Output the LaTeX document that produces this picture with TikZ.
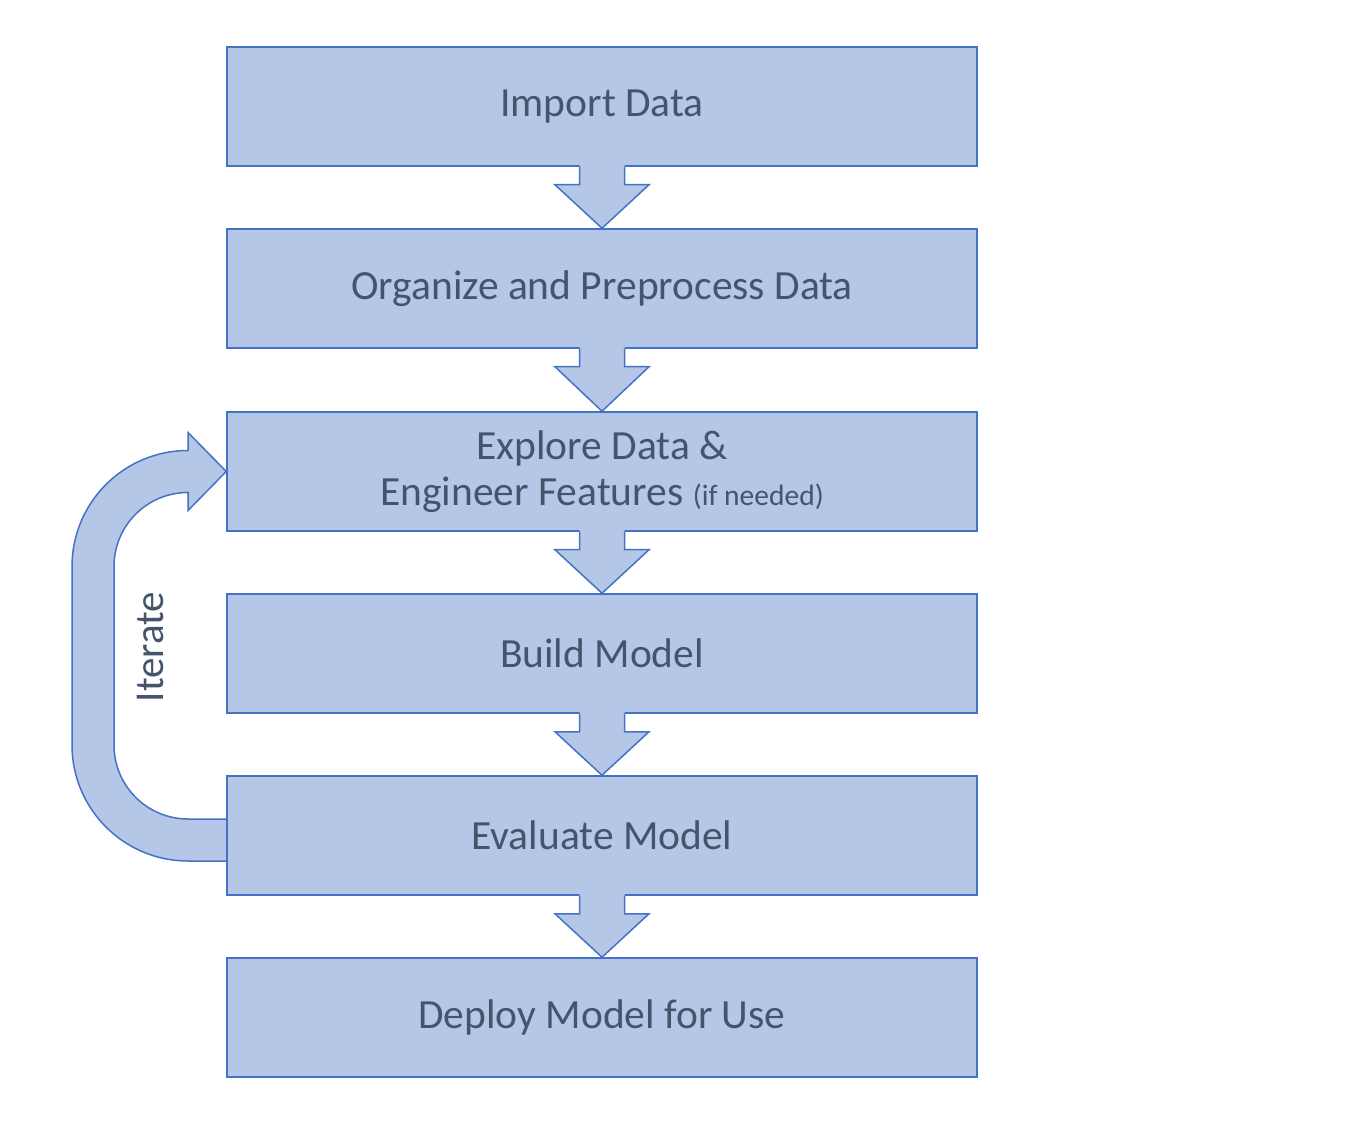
\documentclass[tikz,border=0pt]{standalone}
\usepackage{fontspec}
\setmainfont{Carlito}
\usetikzlibrary{calc}
\definecolor{boxfill}{HTML}{B4C7E7}
\definecolor{boxline}{HTML}{4472C4}
\definecolor{txt}{HTML}{44546A}
\tikzset{
  stepbox/.style={draw=boxline, fill=boxfill, line width=1.5pt, minimum width=750pt, minimum height=119pt, inner sep=0pt, align=center, text=txt, font=\fontsize{41.5}{46}\selectfont},
  arrline/.style={draw=boxline, line width=1.5pt, line join=miter},
  arrfill/.style={fill=boxfill},
}
\begin{document}
\begin{tikzpicture}[x=1pt,y=1pt]
\useasboundingbox (0,0) rectangle (1372,1125);
% positions of the steps
\coordinate (p1) at (602,1018.5);
\coordinate (p2) at (602,836.5);
\coordinate (p3) at (602,653.5);
\coordinate (p4) at (602,471.5);
\coordinate (p5) at (602,289.5);
\coordinate (p6) at (602,107.5);
% invisible helper nodes for the iterate loop (same geometry as the boxes)
\node[stepbox, draw=none, fill=none] (ex0) at (p3) {};
\node[stepbox, draw=none, fill=none] (ev0) at (p5) {};
% iterate loop arrow (behind boxes)
\path[draw=boxline, fill=boxfill, line width=1.5pt, line join=miter]
  ($(ev0.west)+(0,-25.5)$) -- (188,264)
  arc[start angle=270, end angle=180, radius=116] -- (72,558.5)
  arc[start angle=180, end angle=90, radius=116] -- (188,692.5)
  -- (ex0.west) -- (188,614.5) -- (188,632.5)
  arc[start angle=90, end angle=180, radius=74] -- (114,380)
  arc[start angle=180, end angle=270, radius=74] -- ($(ev0.west)+(0,16.5)$);
\node[text=txt, font=\fontsize{41}{46}\selectfont, rotate=90] (it) at (150,478) {Iterate};
% boxes
\node[stepbox] (b1) at (p1) {Import Data};
\node[stepbox] (b2) at (p2) {Organize and Preprocess Data};
\node[stepbox] (b3) at (p3) {Explore Data \&\\Engineer Features {\fontsize{29.5}{30}\selectfont(if needed)}};
\node[stepbox] (b4) at (p4) {Build Model};
\node[stepbox] (b5) at (p5) {Evaluate Model};
\node[stepbox] (b6) at (p6) {Deploy Model for Use};
% block arrows between steps
\foreach \a/\b in {b1/b2, b2/b3, b3/b4, b4/b5, b5/b6}{
  \fill[arrfill] ($(\a.south)+(-22.5,3)$) -- ($(\a.south)+(-22.5,-18)$) -- ($(\a.south)+(-47,-18)$) -- (\b.north)
     -- ($(\a.south)+(47,-18)$) -- ($(\a.south)+(22.5,-18)$) -- ($(\a.south)+(22.5,3)$) -- cycle;
  \draw[arrline] ($(\a.south)+(-22.5,0)$) -- ($(\a.south)+(-22.5,-18)$) -- ($(\a.south)+(-47,-18)$) -- (\b.north)
     -- ($(\a.south)+(47,-18)$) -- ($(\a.south)+(22.5,-18)$) -- ($(\a.south)+(22.5,0)$);
}
\end{tikzpicture}
\end{document}
